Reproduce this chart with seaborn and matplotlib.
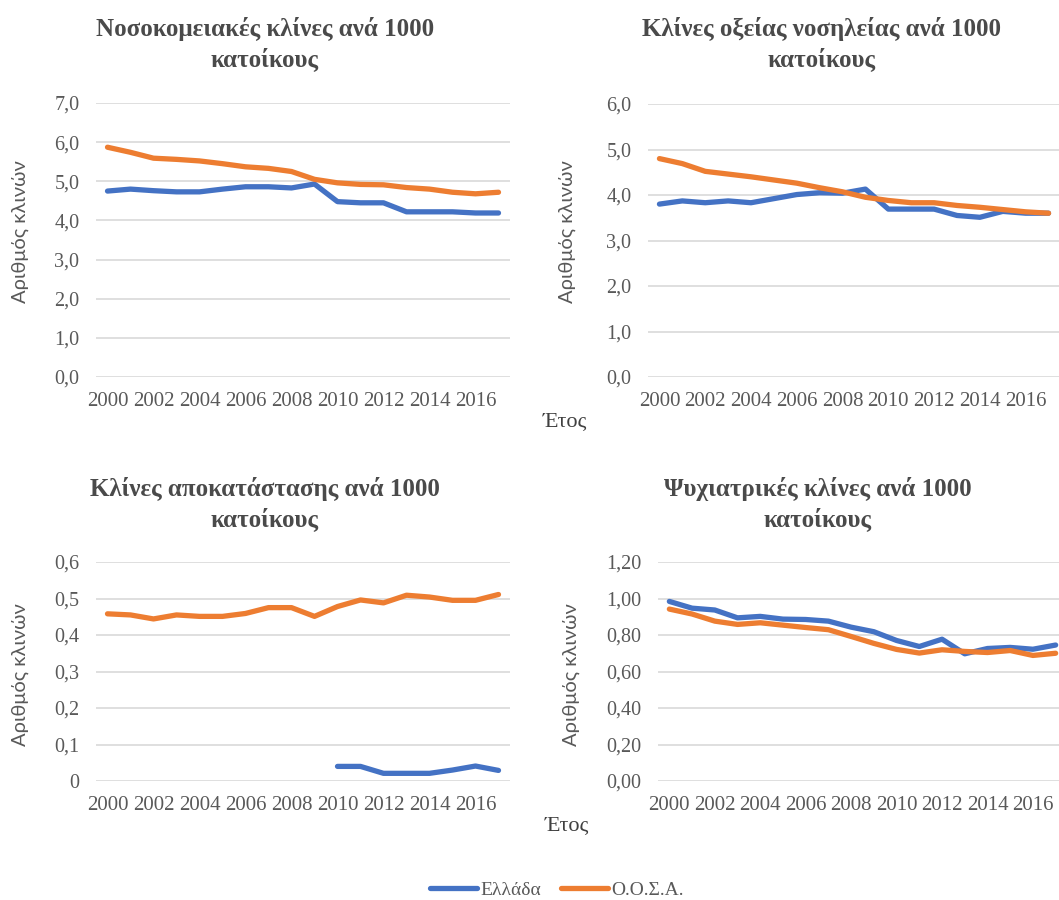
import numpy as np
import pandas as pd
import seaborn as sns
import matplotlib.pyplot as plt
from matplotlib.ticker import FuncFormatter, MultipleLocator
from matplotlib.lines import Line2D

years = list(range(2000, 2018))
countries = ["Ελλάδα", "Ο.Ο.Σ.Α."]

# Hospital beds per 1000
hosp_gr = [4.75, 4.80, 4.76, 4.73, 4.73, 4.80, 4.86, 4.86, 4.83, 4.93,
           4.48, 4.45, 4.45, 4.22, 4.22, 4.22, 4.19, 4.19]
hosp_oecd = [5.87, 5.74, 5.59, 5.56, 5.52, 5.45, 5.37, 5.33, 5.25, 5.05,
             4.96, 4.92, 4.91, 4.84, 4.80, 4.72, 4.68, 4.72]
# Acute care beds per 1000
acute_gr = [3.80, 3.87, 3.83, 3.87, 3.83, 3.92, 4.01, 4.05, 4.04, 4.13,
            3.69, 3.69, 3.69, 3.55, 3.51, 3.64, 3.60, 3.60]
acute_oecd = [4.80, 4.69, 4.52, 4.46, 4.40, 4.33, 4.26, 4.16, 4.07, 3.95,
              3.88, 3.83, 3.83, 3.77, 3.73, 3.68, 3.63, 3.60]
# Rehabilitation beds per 1000
rehab_gr = [np.nan] * 10 + [0.040, 0.040, 0.021, 0.021, 0.021, 0.030, 0.041, 0.029]
rehab_oecd = [0.458, 0.455, 0.444, 0.455, 0.451, 0.451, 0.459, 0.475, 0.475, 0.451,
              0.478, 0.496, 0.488, 0.509, 0.504, 0.495, 0.495, 0.511]
# Psychiatric beds per 1000
psych_gr = [0.984, 0.947, 0.937, 0.894, 0.902, 0.887, 0.885, 0.876, 0.843, 0.818,
            0.770, 0.737, 0.777, 0.697, 0.726, 0.732, 0.722, 0.745]
psych_oecd = [0.942, 0.915, 0.876, 0.858, 0.867, 0.854, 0.841, 0.829, 0.792, 0.754,
              0.721, 0.701, 0.719, 0.710, 0.704, 0.715, 0.688, 0.700]

titles = ["Νοσοκομειακές κλίνες ανά 1000\nκατοίκους",
          "Κλίνες οξείας νοσηλείας ανά 1000\nκατοίκους",
          "Κλίνες αποκατάστασης ανά 1000\nκατοίκους",
          "Ψυχιατρικές κλίνες ανά 1000\nκατοίκους"]
ylabel = "Αριθμός κλινών"
xlabel = "Έτος"

sns.set_theme(style="white")
plt.rcParams['font.family'] = ['Liberation Serif', 'DejaVu Serif']

BLUE = "#4472C4"
ORANGE = "#ED7D31"
GRID = "#D9D9D9"
TXT = "#595959"
TITLE = "#4a4a4a"

W, H = 1059, 900
fig = plt.figure(figsize=(W / 100, H / 100), dpi=100)


def add_ax(left, top, width, height):
    return fig.add_axes([left / W, 1 - (top + height) / H, width / W, height / H])


def fmt1(v, p):
    return f"{v:.1f}".replace(".", ",")


def fmt_rehab(v, p):
    if abs(v) < 1e-9:
        return "0"
    return f"{v:.1f}".replace(".", ",")


def fmt2(v, p):
    return f"{v:.2f}".replace(".", ",")


panels = [
    dict(gr=hosp_gr, oecd=hosp_oecd, box=(96, 103, 414, 274), ymax=7.0, step=1.0, fmt=fmt1,
         title_xy=(265, 44), ylab_xy=(20, 232)),
    dict(gr=acute_gr, oecd=acute_oecd, box=(648, 104, 412, 273), ymax=6.0, step=1.0, fmt=fmt1,
         title_xy=(822, 44), ylab_xy=(567, 232)),
    dict(gr=rehab_gr, oecd=rehab_oecd, box=(96, 562, 414, 219), ymax=0.6, step=0.1, fmt=fmt_rehab,
         title_xy=(265, 504), ylab_xy=(20, 675)),
    dict(gr=psych_gr, oecd=psych_oecd, box=(658, 562, 409, 219), ymax=1.2, step=0.2, fmt=fmt2,
         title_xy=(818, 504), ylab_xy=(571, 675)),
]

for i, p in enumerate(panels):
    ax = add_ax(*p["box"])
    df = pd.DataFrame({
        "year": years * 2,
        "value": list(p["gr"]) + list(p["oecd"]),
        "country": [countries[0]] * len(years) + [countries[1]] * len(years),
    })
    sns.lineplot(data=df, x="year", y="value", hue="country",
                 palette={countries[0]: BLUE, countries[1]: ORANGE},
                 hue_order=countries, linewidth=3.8, legend=False, errorbar=None,
                 solid_capstyle="round", solid_joinstyle="round", ax=ax)
    ax.set_xlim(1999.5, 2017.5)
    ax.set_ylim(0, p["ymax"])
    ax.yaxis.set_major_locator(MultipleLocator(p["step"]))
    ax.yaxis.set_major_formatter(FuncFormatter(p["fmt"]))
    ax.set_xticks(years[::2])
    ax.set_xticklabels([str(y) for y in years[::2]])
    ax.yaxis.grid(True, color=GRID, linewidth=1.2)
    ax.xaxis.grid(False)
    ax.set_axisbelow(True)
    for s in ax.spines.values():
        s.set_visible(False)
    ax.tick_params(axis="y", length=0, pad=12, labelsize=14.5, labelcolor=TXT)
    ax.tick_params(axis="x", length=0, pad=11, labelsize=15, labelcolor=TXT)
    ax.set_xlabel("")
    ax.set_ylabel("")
    fig.text(p["ylab_xy"][0] / W, 1 - p["ylab_xy"][1] / H, ylabel, rotation=90,
             ha="center", va="center", fontsize=14.5, color=TXT, family=["Lato", "DejaVu Sans"])
    fig.text(p["title_xy"][0] / W, 1 - p["title_xy"][1] / H, titles[i],
             ha="center", va="center", fontsize=18, fontweight="bold", color=TITLE,
             linespacing=1.3)

# x-axis titles
fig.text(565 / W, 1 - 422 / H, xlabel, ha="center", va="center", fontsize=16, color="#404040")
fig.text(567 / W, 1 - 826 / H, xlabel, ha="center", va="center", fontsize=16, color="#404040")

handles = [Line2D([0], [0], color=BLUE, lw=3.8), Line2D([0], [0], color=ORANGE, lw=3.8)]
leg = fig.legend(handles, countries, loc="center", bbox_to_anchor=(557 / W, 1 - 890 / H),
                 ncol=2, frameon=False, fontsize=14, handlelength=2.4, handletextpad=0.2,
                 columnspacing=1.0, labelcolor=TXT)

fig.savefig("out.png", dpi=100)
